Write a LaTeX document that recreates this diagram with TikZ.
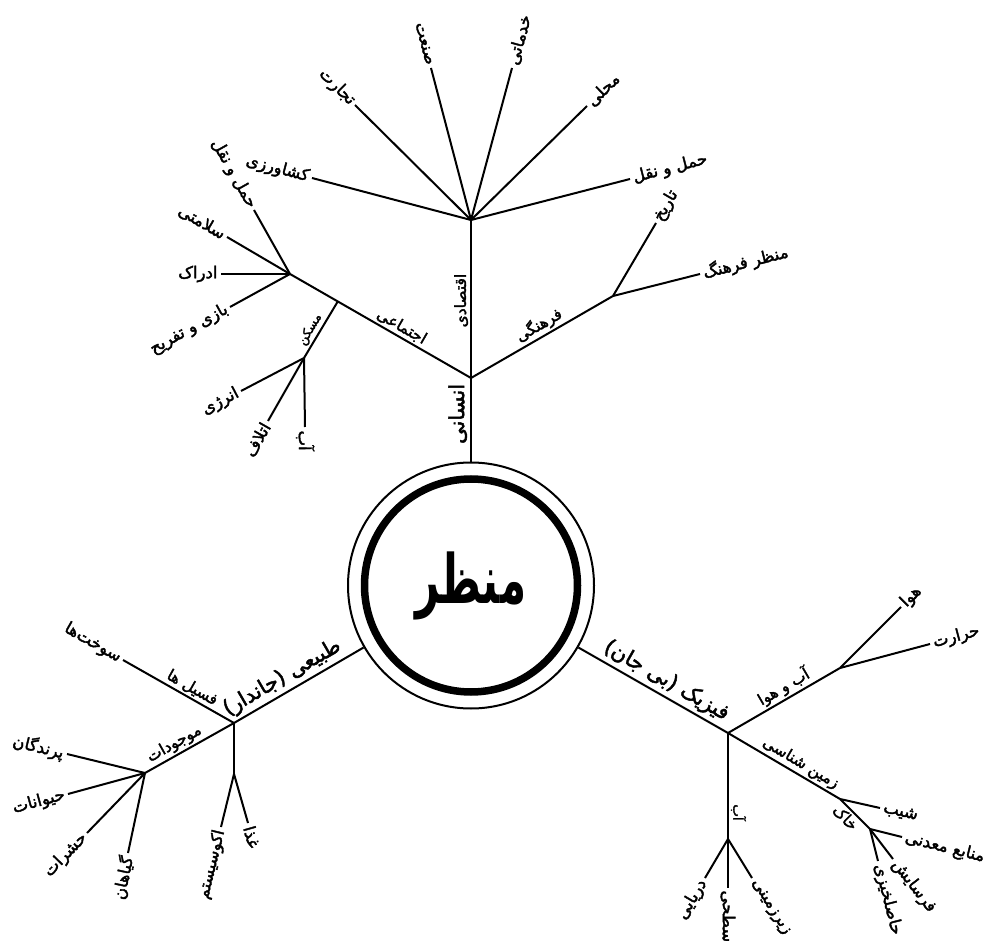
\documentclass[tikz,border=0pt]{standalone}
\usepackage{fontspec}
\usetikzlibrary{calc}
\newfontfamily\farsi[Script=Arabic, FakeBold=2.2]{DejaVu Sans}
\newfontfamily\farsititle[Script=Arabic, FakeStretch=0.62]{DejaVu Sans}
\TeXXeTstate=1

\tikzset{
  branch/.style={line width=2pt},
  rtl/.style={execute at begin node=\beginR, execute at end node=\endR},
  leafR/.style={rtl, pos=1, sloped, anchor=west, inner sep=2.5pt,
    font=\farsi\fontsize{16.5}{18}\selectfont},
  leafL/.style={leafR, anchor=east},
  twig/.style={rtl, sloped, above, inner sep=2pt,
    font=\farsi\fontsize{15.5}{17}\selectfont},
  stem/.style={twig, inner sep=3pt, font=\farsi\fontsize{21}{23}\selectfont},
}

\begin{document}
\begin{tikzpicture}[x=1pt, y=-1pt]
\useasboundingbox (0,0) rectangle (986,941);

% centre
\node[draw, circle, line width=2pt, minimum size=246pt, inner sep=0pt, rtl,
  font=\farsititle\bfseries\fontsize{68}{72}\selectfont] (core) at (471,585.5) {منظر};
\draw[line width=7.5pt] (core.center) circle[radius=106.5pt];

% human
\coordinate (humHub) at (471,378);
\coordinate (ecoHub) at (471,220);
\coordinate (socHub) at (290,274);
\coordinate (homeJn) at ($(humHub)!.736!(socHub)$);
\coordinate (homeHub) at (304,358);
\coordinate (culHub) at (613,296);

\draw[branch] (core.north) -- node[stem, pos=.57] (humLbl) {انسانی} (humHub);
\draw[branch] (humHub) -- node[twig, pos=.49] (ecoLbl) {اقتصادی} (ecoHub);
\draw[branch] (humHub) -- node[twig, pos=.41] (socLbl) {اجتماعی} (socHub);
\draw[branch] (humHub) -- node[twig, pos=.52] (culLbl) {فرهنگی} (culHub);
\draw[branch] (homeJn) -- node[twig, pos=.58, font=\farsi\fontsize{12.5}{14}\selectfont] (homeLbl) {مسکن} (homeHub);

\coordinate (agri) at (312,178);
\coordinate (trade) at (355,105);
\coordinate (industry) at (431,68);
\coordinate (service) at (512,68);
\coordinate (local) at (587,106);
\coordinate (transE) at (630,179);
\draw[branch] (ecoHub) -- node[leafL] (agriLbl) {کشاورزی} (agri);
\draw[branch] (ecoHub) -- node[leafL] (tradeLbl) {تجارت} (trade);
\draw[branch] (ecoHub) -- node[leafL] (industryLbl) {صنعت} (industry);
\draw[branch] (ecoHub) -- node[leafR] (serviceLbl) {خدماتی} (service);
\draw[branch] (ecoHub) -- node[leafR] (localLbl) {محلی} (local);
\draw[branch] (ecoHub) -- node[leafR] (transELbl) {حمل و نقل} (transE);

\coordinate (transS) at (254,210);
\coordinate (health) at (227,237);
\coordinate (percep) at (221,274);
\coordinate (play) at (230,307);
\draw[branch] (socHub) -- node[leafL] (transSLbl) {حمل و نقل} (transS);
\draw[branch] (socHub) -- node[leafL] (healthLbl) {سلامتی} (health);
\draw[branch] (socHub) -- node[leafL] (percepLbl) {ادراک} (percep);
\draw[branch] (socHub) -- node[leafL] (playLbl) {بازی و تفریح} (play);

\coordinate (energy) at (241,391);
\coordinate (waste) at (268,421);
\coordinate (waterH) at (305,427);
\draw[branch] (homeHub) -- node[leafL] (energyLbl) {انرژی} (energy);
\draw[branch] (homeHub) -- node[leafL] (wasteLbl) {اتلاف} (waste);
\draw[branch] (homeHub) -- node[leafR] (waterHLbl) {آب} (waterH);

\coordinate (history) at (656,223);
\coordinate (cultLand) at (700,274);
\draw[branch] (culHub) -- node[leafR] (historyLbl) {تاریخ} (history);
\draw[branch] (culHub) -- node[leafR] (cultLandLbl) {منظر فرهنگ} (cultLand);

% natural
\coordinate (natHub) at (234,723);
\coordinate (fosEnd) at (123,660);
\coordinate (orgHub) at (145,773);
\coordinate (ecoJn) at (234,774);

\draw[branch] (core.210) -- node[stem, pos=.57] (natLbl) {طبیعی (جاندار)} (natHub);
\draw[branch] (natHub) -- node[twig, pos=.42] (fosLbl) {فسیل ها} (fosEnd)
  node[leafL, pos=1] (fuelLbl) {سوخت‌ها};
\draw[branch] (natHub) -- node[twig, pos=.61] (orgLbl) {موجودات} (orgHub);
\draw[branch] (natHub) -- (ecoJn);

\coordinate (bird) at (67,754);
\coordinate (animal) at (68,794);
\coordinate (insect) at (87,833);
\coordinate (plant) at (128,853);
\draw[branch] (orgHub) -- node[leafL] (birdLbl) {پرندگان} (bird);
\draw[branch] (orgHub) -- node[leafL] (animalLbl) {حیوانات} (animal);
\draw[branch] (orgHub) -- node[leafL] (insectLbl) {حشرات} (insect);
\draw[branch] (orgHub) -- node[leafL] (plantLbl) {گیاهان} (plant);

\coordinate (ecosys) at (221,827);
\coordinate (food) at (248,823);
\draw[branch] (ecoJn) -- node[leafL] (ecosysLbl) {اکوسیستم} (ecosys);
\draw[branch] (ecoJn) -- node[leafR] (foodLbl) {غذا} (food);

% physical
\coordinate (phyHub) at (728,733);
\coordinate (climHub) at (840,668);
\coordinate (geoHub) at (840,799);
\coordinate (soilHub) at (870,829);
\coordinate (waterHub) at (728,839);

\draw[branch] (core.330) -- node[stem, pos=.54] (phyLbl) {فیزیک (بی جان)} (phyHub);
\draw[branch] (phyHub) -- node[twig, pos=.55] (climLbl) {آب و هوا} (climHub);
\draw[branch] (phyHub) -- node[twig, pos=.6] (geoLbl) {زمین شناسی} (geoHub);
\draw[branch] (geoHub) -- node[twig, below, pos=.4] (soilLbl) {خاک} (soilHub);
\draw[branch] (phyHub) -- node[twig, pos=.75, font=\farsi\fontsize{13.5}{15}\selectfont] (waterLbl) {آب} (waterHub);

\coordinate (air) at (901,607);
\coordinate (heat) at (930,644);
\draw[branch] (climHub) -- node[leafR] (airLbl) {هوا} (air);
\draw[branch] (climHub) -- node[leafR] (heatLbl) {حرارت} (heat);

\coordinate (slope) at (880,808);
\draw[branch] (geoHub) -- node[leafR] (slopeLbl) {شیب} (slope);

\coordinate (mineral) at (902,837);
\coordinate (erosion) at (893,859);
\coordinate (fertile) at (878,861);
\draw[branch] (soilHub) -- node[leafR] (mineralLbl) {منابع معدنی} (mineral);
\draw[branch] (soilHub) -- node[leafR] (erosionLbl) {فرسایش} (erosion);
\draw[branch] (soilHub) -- node[leafR] (fertileLbl) {حاصلخیزی} (fertile);

\coordinate (sea) at (705,878);
\coordinate (surface) at (728,888);
\coordinate (ground) at (752,878);
\draw[branch] (waterHub) -- node[leafL] (seaLbl) {دریایی} (sea);
\draw[branch] (waterHub) -- node[leafR, inner sep=1.5pt] (surfaceLbl) {سطحی} (surface);
\draw[branch] (waterHub) -- node[leafR] (groundLbl) {زیرزمینی} (ground);

\end{tikzpicture}
\end{document}
